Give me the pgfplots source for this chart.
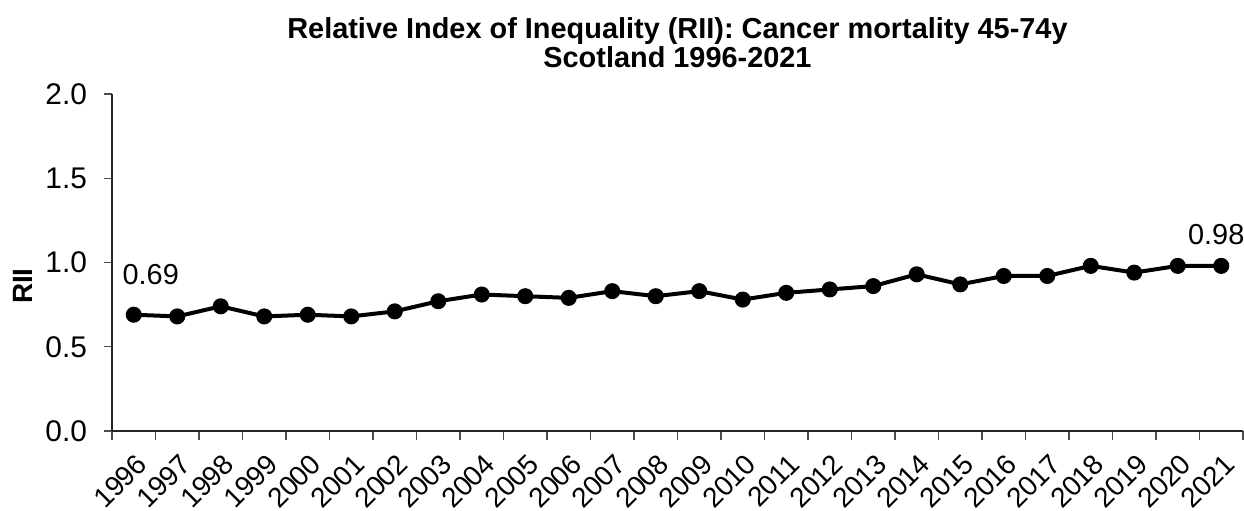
\documentclass[border=0pt]{standalone}
\usepackage{pgfplots}
\pgfplotsset{compat=1.18}
\usepackage{fontspec}
\setmainfont{Liberation Sans}

\begin{document}
\begin{tikzpicture}
\begin{axis}[
    scale only axis,
    width=565.5bp, height=168.5bp,
    xmin=-0.5, xmax=25.5,
    ymin=0, ymax=2,
    axis x line=bottom, axis y line=left,
    axis line style={-, black!85, line width=0.7bp},
    tick align=outside,
    tick style={black!70, line width=0.7bp},
    major tick length=4bp, minor tick length=4.5bp,
    xtick={0,...,25},
    xticklabels={1996,1997,1998,1999,2000,2001,2002,2003,2004,2005,2006,2007,2008,2009,2010,2011,2012,2013,2014,2015,2016,2017,2018,2019,2020,2021},
    major x tick style={draw=none},
    minor xtick={-0.5,0.5,...,25.5},
    xticklabel style={rotate=45, anchor=north east, font=\fontsize{14}{17}\selectfont, inner sep=1bp, xshift=-3bp, yshift=-4bp},
    ytick={0,0.5,1,1.5,2},
    yticklabel style={font=\fontsize{15}{18}\selectfont, xshift=-5bp, /pgf/number format/fixed, /pgf/number format/fixed zerofill, /pgf/number format/precision=1},
    /pgf/number format/assume math mode=true,
    ylabel={\textbf{RII}},
    ylabel style={font=\fontsize{14}{17}\selectfont, at={(axis description cs:-0.0787,0.43)}, anchor=center},
    title={\textbf{Relative Index of Inequality (RII): Cancer mortality 45-74y}\\\textbf{Scotland 1996-2021}},
    title style={font=\fontsize{14.5}{14.5}\selectfont, align=center, at={(0.5,1)}, anchor=south, inner sep=0pt, yshift=7bp},
    clip=false,
]
\addplot[black, line width=2bp, mark=*, mark size=3bp, mark options={fill=black}]
coordinates {
(0,0.69) (1,0.68) (2,0.74) (3,0.68) (4,0.69) (5,0.68) (6,0.71) (7,0.77)
(8,0.81) (9,0.80) (10,0.79) (11,0.83) (12,0.80) (13,0.83) (14,0.78) (15,0.82)
(16,0.84) (17,0.86) (18,0.93) (19,0.87) (20,0.92) (21,0.92) (22,0.98) (23,0.94)
(24,0.98) (25,0.98)
};
\addplot[draw=none, mark=none, nodes near coords, point meta=explicit symbolic,
    every node near coord/.append style={font=\fontsize{14.5}{17}\selectfont, anchor=center, xshift=8.5bp, yshift=20bp}]
coordinates {(0,0.69) [0.69]};
\addplot[draw=none, mark=none, nodes near coords, point meta=explicit symbolic,
    every node near coord/.append style={font=\fontsize{14.5}{17}\selectfont, anchor=center, xshift=-2.5bp, yshift=15.5bp}]
coordinates {(25,0.98) [0.98]};
\end{axis}
\pgfresetboundingbox
\path ([xshift=-56bp,yshift=-40bp]current axis.south west) rectangle ([xshift=0.5bp,yshift=47bp]current axis.north east);
\end{tikzpicture}
\end{document}
